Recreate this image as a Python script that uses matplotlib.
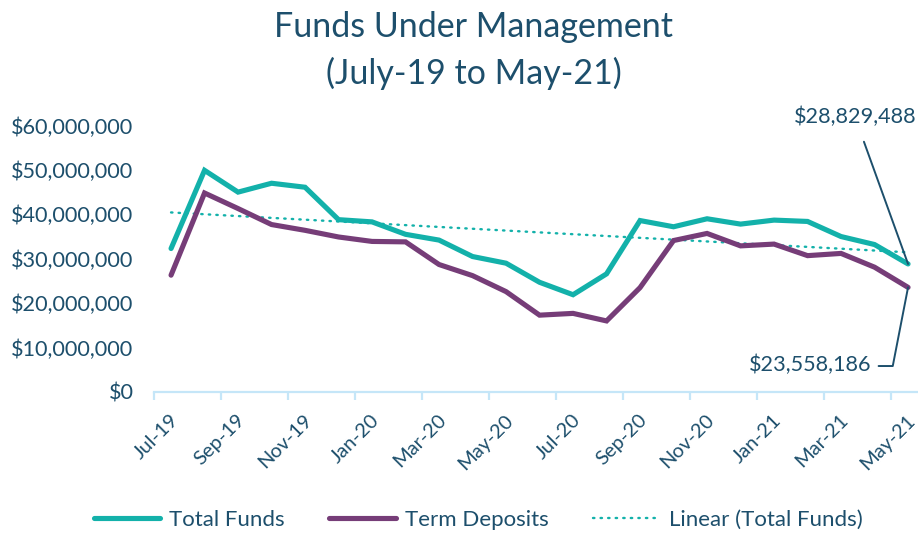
import numpy as np
import matplotlib
matplotlib.use("Agg")
import matplotlib.pyplot as plt

# monthly values, Jul-19 .. May-21
months = ["Jul-19", "Aug-19", "Sep-19", "Oct-19", "Nov-19", "Dec-19",
          "Jan-20", "Feb-20", "Mar-20", "Apr-20", "May-20", "Jun-20",
          "Jul-20", "Aug-20", "Sep-20", "Oct-20", "Nov-20", "Dec-20",
          "Jan-21", "Feb-21", "Mar-21", "Apr-21", "May-21"]
total_funds = [32.3, 49.9, 45.0, 47.0, 46.1, 38.8, 38.3, 35.5, 34.2, 30.5,
               29.0, 24.7, 21.9, 26.6, 38.6, 37.2, 39.0, 37.8, 38.7, 38.4,
               35.0, 33.2, 28.829488]
term_deposits = [26.3, 44.8, 41.3, 37.7, 36.4, 34.9, 33.9, 33.8, 28.7, 26.2,
                 22.6, 17.3, 17.7, 16.0, 23.5, 34.1, 35.7, 32.9, 33.3, 30.7,
                 31.2, 28.1, 23.558186]
total_funds = [v * 1e6 for v in total_funds]
term_deposits = [v * 1e6 for v in term_deposits]

TEXT = "#1d4f6c"
TEAL = "#13b1aa"
PURPLE = "#763d78"
AXIS = "#c5e6f8"

plt.rcParams['font.family'] = ['Lato', 'DejaVu Sans']

def main():
    fig = plt.figure(figsize=(9.18, 5.34), dpi=100)
    ax = fig.add_axes([154.3 / 918, 142 / 534, 770.5 / 918, 266.5 / 534])

    x = np.arange(len(months))
    ax.plot(x, total_funds, color=TEAL, lw=3.7, solid_capstyle="round",
            solid_joinstyle="miter", label="Total Funds", zorder=3)
    ax.plot(x, term_deposits, color=PURPLE, lw=3.7, solid_capstyle="round",
            solid_joinstyle="miter", label="Term Deposits", zorder=3)

    # linear trendline for total funds
    k, b = np.polyfit(x, total_funds, 1)
    ax.plot(x, k * x + b, color=TEAL, lw=1.7, dashes=(0.6, 2.6),
            dash_capstyle="round", label="Linear (Total Funds)", zorder=2)

    ax.set_xlim(-0.5, len(months) - 0.5)
    ax.set_ylim(0, 60e6)
    yt = np.arange(0, 60e6 + 1, 10e6)
    ax.set_yticks(yt)
    ax.set_yticklabels(["${:,.0f}".format(v) for v in yt])
    ax.tick_params(axis="y", length=0, pad=15, labelsize=15.6, labelcolor=TEXT)

    # tick marks between categories, labels every other month
    ax.set_xticks(np.arange(-0.5, len(months), 2), minor=True)
    ax.set_xticks(x[::2] - 0.05)
    ax.set_xticklabels(months[::2], rotation=45, ha="right", va="top",
                       rotation_mode="anchor")
    ax.tick_params(axis="x", which="major", length=0, pad=14, labelsize=14.4,
                   labelcolor=TEXT)
    ax.tick_params(axis="x", which="minor", length=6, width=1.6, color=AXIS)

    for s in ["top", "right", "left"]:
        ax.spines[s].set_visible(False)
    ax.spines["bottom"].set_color(AXIS)
    ax.spines["bottom"].set_linewidth(1.6)

    last = len(months) - 1
    ax.annotate("${:,.0f}".format(total_funds[-1]), xy=(last, total_funds[-1]),
                xytext=(855, 534 - 117), textcoords="figure pixels",
                ha="center", va="center", fontsize=15.6, color=TEXT,
                annotation_clip=False,
                arrowprops=dict(arrowstyle="-", color=TEXT, lw=1.4,
                                shrinkA=9, shrinkB=0))
    ax.annotate("${:,.0f}".format(term_deposits[-1]), xy=(last, term_deposits[-1]),
                xytext=(810, 534 - 365), textcoords="figure pixels",
                ha="center", va="center", fontsize=15.6, color=TEXT,
                annotation_clip=False,
                arrowprops=dict(arrowstyle="-", color=TEXT, lw=1.4,
                                connectionstyle="angle,angleA=0,angleB=79,rad=0",
                                shrinkA=0, shrinkB=0, relpos=(1.06, 0.45)))

    fig.text(473.5 / 918, 1 - 27 / 534, "Funds Under Management", ha="center",
             va="center", fontsize=24.5, color=TEXT)
    fig.text(473.5 / 918, 1 - 73 / 534, "(July-19 to May-21)", ha="center",
             va="center", fontsize=24.5, color=TEXT)

    fig.legend(loc="center", bbox_to_anchor=(478 / 918, 1 - 520 / 534), ncol=3,
               frameon=False, fontsize=16, labelcolor=TEXT, handlelength=3.0,
               handletextpad=0.4, columnspacing=2.0)

    fig.savefig("out.png", dpi=100, facecolor="white")

if __name__ == "__main__":
    main()
